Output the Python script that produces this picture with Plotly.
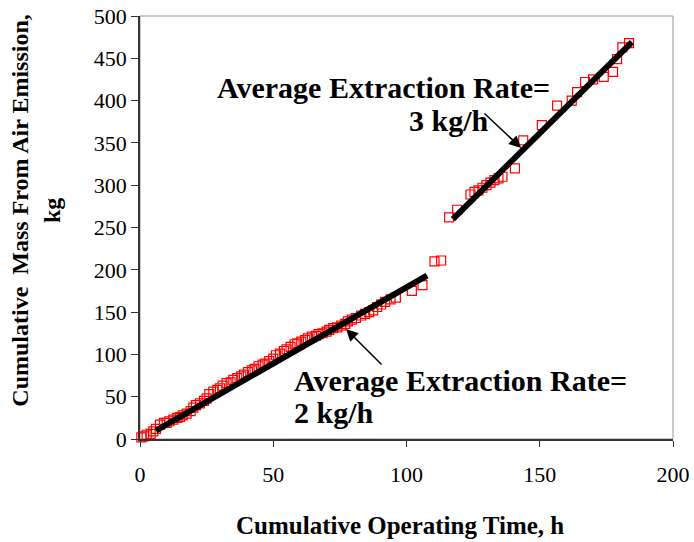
import plotly.graph_objects as go

# Measured data (cumulative operating time, h ; cumulative mass, kg)
time_h = [0.5, 1.5, 2.5, 4, 5, 6, 7.5, 9, 10, 11, 12.5, 14, 15, 16, 17.5, 19, 20, 21,
          22.5, 24, 25, 26, 27.5, 29, 30, 31, 32.5, 34, 35, 36.5, 38, 39, 40.5, 42, 43,
          44.5, 46, 47, 48.5, 50, 51, 52.5, 54, 55, 56.5, 58, 59, 60.5, 62, 63, 64.5,
          66, 67, 68.5, 70, 71, 72.5, 74, 75.5, 77, 78, 79.5, 81, 83, 84.5, 86, 87.5,
          89, 90.5, 92, 94, 96, 102, 106, 110.5, 113,
          116, 119, 124, 125.5, 127, 128.5, 130, 131.5, 133, 134.5, 136, 140.7, 143.8,
          150.8, 156.5, 162, 164, 167, 170, 174, 177.5, 179, 181, 183.5]
mass_kg = [2, 3, 5, 6, 9, 12, 17, 19, 19, 21, 23, 25, 26, 28, 30, 33, 37, 40,
           42, 45, 48, 53, 56, 58, 60, 63, 66, 67, 70, 72, 74, 76, 79, 81, 83,
           86, 88, 89, 92, 95, 99, 101, 104, 106, 109, 112, 113, 115, 117, 119, 121,
           122, 124, 125, 127, 129, 131, 132, 134, 136, 139, 141, 143, 146, 148, 150, 152,
           156, 159, 162, 165, 167, 175, 182, 210, 211,
           262, 271, 289, 292, 294, 297, 300, 303, 306, 308, 310, 320, 353,
           371, 394, 400, 410, 422, 425, 428, 434, 449, 463, 468]

# Fitted average-rate lines (endpoints)
fit1_x = [6, 107.7]
fit1_y = [10, 193]
fit2_x = [117.4, 184.6]
fit2_y = [260, 469]

x_ticks = [0, 50, 100, 150, 200]
y_ticks = [0, 50, 100, 150, 200, 250, 300, 350, 400, 450, 500]

FONT = "Liberation Serif, Times New Roman, serif"

fig = go.Figure()
fig.add_trace(go.Scatter(x=time_h, y=mass_kg, mode="markers",
                         marker=dict(symbol="square-open", size=9, color="#ff0000",
                                     line=dict(width=1.2, color="#ff0000")),
                         showlegend=False, cliponaxis=False))
fig.add_trace(go.Scatter(x=fit1_x, y=fit1_y, mode="lines",
                         line=dict(color="black", width=6), showlegend=False))
fig.add_trace(go.Scatter(x=fit2_x, y=fit2_y, mode="lines",
                         line=dict(color="black", width=6), showlegend=False))

ann_font = dict(family=FONT, size=30, color="black")
annotations = [
    dict(x=91.2, y=415, xref="x", yref="y", text="<b>Average Extraction Rate=</b>",
         showarrow=False, font=ann_font, xanchor="center", yanchor="middle"),
    dict(x=116, y=377, xref="x", yref="y", text="<b>3 kg/h</b>",
         showarrow=False, font=ann_font, xanchor="center", yanchor="middle"),
    dict(x=57, y=69.7, xref="x", yref="y", text="<b>Average Extraction Rate=</b>",
         showarrow=False, font=ann_font, xanchor="left", yanchor="middle"),
    dict(x=57, y=31, xref="x", yref="y", text="<b>2 kg/h</b>",
         showarrow=False, font=ann_font, xanchor="left", yanchor="middle"),
    # arrows
    dict(x=143, y=344, xref="x", yref="y", ax=128.7, ay=386.5, axref="x", ayref="y",
         text="", showarrow=True, arrowhead=2, arrowsize=1.6, arrowwidth=1.5,
         arrowcolor="black", standoff=0, startstandoff=0),
    dict(x=77.3, y=130, xref="x", yref="y", ax=91.2, ay=86.3, axref="x", ayref="y",
         text="", showarrow=True, arrowhead=2, arrowsize=1.6, arrowwidth=1.5,
         arrowcolor="black", standoff=0, startstandoff=0),
    # axis titles
    dict(x=-0.195, y=0.54, xref="paper", yref="paper",
         text="<b>Cumulative  Mass From Air Emission,</b><br><b>kg</b>",
         textangle=-90, showarrow=False, xanchor="center", yanchor="middle",
         font=dict(family=FONT, size=24, color="black")),
    dict(x=0.487, y=-0.205, xref="paper", yref="paper",
         text="<b>Cumulative Operating Time, h</b>",
         showarrow=False, xanchor="center", yanchor="middle",
         font=dict(family=FONT, size=25, color="black")),
]

fig.update_layout(
    width=694, height=542,
    margin=dict(l=140, r=21, t=16, b=103),
    paper_bgcolor="white", plot_bgcolor="white",
    annotations=annotations,
    shapes=[dict(type="rect", xref="paper", yref="paper", x0=0, x1=1, y0=0, y1=1,
                 line=dict(color="#999999", width=1), layer="below")],
    xaxis=dict(range=[0, 200], tickvals=x_ticks, ticktext=[str(v) for v in x_ticks],
               automargin=False, ticklabeloverflow="allow",
               showgrid=False, zeroline=False, showline=True, linecolor="#333333",
               linewidth=1.5, ticks="outside", ticklen=6, tickcolor="#333333",
               ticklabelstandoff=9,
               tickfont=dict(family=FONT, size=22, color="black")),
    yaxis=dict(range=[0, 500], tickvals=y_ticks, ticktext=[str(v) for v in y_ticks],
               automargin=False, ticklabeloverflow="allow",
               showgrid=False, zeroline=False, showline=True, linecolor="#333333",
               linewidth=1.5, ticks="outside", ticklen=7, tickcolor="#333333",
               tickfont=dict(family=FONT, size=22, color="black")),
)

# remove the default 8 px page margin so the figure sits at the window's corner
fig.write_html("out.html", config={"displayModeBar": False},
               post_script="document.body.style.margin='0';")
